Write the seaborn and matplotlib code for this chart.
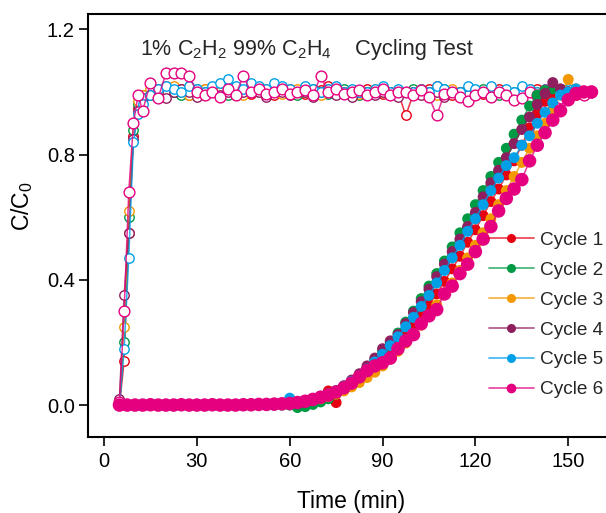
import matplotlib
matplotlib.use("Agg")
import matplotlib.pyplot as plt
from matplotlib.lines import Line2D
import seaborn as sns

# ---------------- data ----------------
cycles = ["Cycle 1", "Cycle 2", "Cycle 3", "Cycle 4", "Cycle 5", "Cycle 6"]
colors = ["#E60012", "#009944", "#F39800", "#8F1E5E", "#00A0E9", "#E4007F"]

# C2H4 outlet (open circles)
t_open = [5, 6.5, 8, 9.5, 11, 12.5, 15, 17.5,
          20, 22.5, 25, 27.5, 30, 32.5, 35, 37.5,
          40, 42.5, 45, 47.5, 50, 52.5, 55, 57.5,
          60, 62.5, 65, 67.5, 70, 72.5, 75, 77.5,
          80, 82.5, 85, 87.5, 90, 92.5, 95, 97.5,
          100, 102.5, 105, 107.5, 110, 112.5, 115, 117.5,
          120, 122.5, 125, 127.5, 130, 132.5, 135, 137.5,
          140, 142.5, 145, 147.5, 150, 152.5, 155, 157.5]

c2h4_cycle1 = [0.00, 0.14, 0.55, 0.86, 0.95, 0.98, 1.00, 1.01,
               1.02, 1.00, 1.01, 0.99, 1.00, 1.01, 1.00, 0.99,
               1.00, 1.01, 1.00, 0.995, 1.01, 1.00, 0.99, 1.00,
               1.01, 1.00, 0.995, 1.00, 1.005, 1.02, 1.01, 1.00,
               0.99, 1.00, 1.01, 1.00, 0.995, 1.00, 1.00, 0.925,
               0.995, 1.00, 1.01, 1.02, 1.00, 0.99, 1.00, 1.01,
               1.00, 0.995, 1.00, 1.01, 1.00, 0.99, 1.00, 1.005,
               1.01, 1.00, 0.995, 1.00, 1.00, 0.99, 1.00, 1.00]
c2h4_cycle2 = [0.00, 0.20, 0.60, 0.88, 0.96, 0.99, 1.00, 0.99,
               1.01, 1.00, 0.99, 1.00, 1.01, 0.995, 1.00, 1.01,
               0.99, 1.00, 1.005, 1.01, 1.00, 0.99, 1.00, 1.01,
               1.00, 0.99, 1.00, 1.01, 1.00, 0.995, 1.00, 1.01,
               1.00, 0.99, 1.00, 1.005, 1.01, 1.00, 0.99, 1.00,
               1.01, 1.00, 0.99, 1.00, 1.01, 1.00, 0.995, 1.00,
               1.00, 1.01, 1.00, 0.99, 1.00, 1.00, 1.01, 1.00,
               0.99, 1.00, 1.00, 1.01, 1.00, 1.00, 0.99, 1.00]
c2h4_cycle3 = [0.00, 0.25, 0.62, 0.90, 0.97, 0.99, 1.01, 1.00,
               1.00, 1.02, 1.00, 0.99, 1.00, 1.01, 1.00, 1.00,
               1.01, 1.00, 0.99, 1.00, 1.00, 1.01, 1.00, 0.995,
               1.00, 1.01, 1.00, 1.00, 0.99, 1.00, 1.01, 1.00,
               1.00, 0.995, 1.00, 1.01, 1.00, 1.00, 0.99, 1.00,
               1.00, 1.01, 1.00, 0.99, 1.00, 1.01, 1.00, 1.00,
               0.99, 1.00, 1.01, 1.00, 1.00, 0.995, 1.00, 1.01,
               1.00, 1.00, 0.99, 1.00, 1.01, 1.00, 1.00, 1.00]
c2h4_cycle4 = [0.02, 0.35, 0.55, 0.85, 0.94, 0.98, 0.99, 1.00,
               0.98, 1.00, 1.01, 1.00, 0.985, 1.00, 1.00, 0.99,
               1.00, 0.99, 1.00, 1.01, 1.00, 0.985, 1.00, 1.00,
               0.99, 1.00, 1.00, 0.985, 1.00, 1.01, 0.99, 1.00,
               0.985, 1.00, 1.00, 0.99, 1.00, 1.00, 0.985, 1.00,
               1.00, 0.99, 1.00, 1.00, 0.985, 1.00, 1.00, 0.99,
               1.00, 1.00, 0.985, 1.00, 1.00, 0.99, 1.00, 1.00,
               0.985, 1.00, 1.00, 1.00, 0.99, 1.00, 1.00, 1.00]
c2h4_cycle5 = [0.00, 0.18, 0.47, 0.84, 0.93, 0.96, 0.99, 1.01,
               1.02, 1.01, 1.00, 1.02, 1.01, 1.00, 1.02, 1.03,
               1.04, 1.02, 1.01, 1.03, 1.02, 1.01, 1.03, 1.02,
               1.01, 1.00, 1.02, 1.01, 1.00, 1.01, 1.02, 1.00,
               1.01, 1.00, 1.00, 1.01, 1.02, 1.00, 1.01, 1.00,
               1.00, 1.01, 1.00, 1.02, 1.01, 1.00, 1.00, 1.02,
               1.01, 1.00, 1.02, 1.00, 1.01, 1.00, 1.02, 1.01,
               1.00, 1.01, 1.00, 1.00, 1.01, 1.00, 1.00, 1.00]
c2h4_cycle6 = [0.01, 0.30, 0.68, 0.90, 0.99, 0.94, 1.03, 0.98,
               1.06, 1.06, 1.06, 1.05, 1.00, 0.99, 1.00, 0.985,
               1.01, 0.99, 1.05, 1.00, 1.01, 0.995, 1.00, 1.01,
               0.995, 1.00, 1.005, 0.99, 1.05, 1.00, 1.01, 0.995,
               1.00, 1.005, 0.99, 1.00, 1.01, 0.99, 1.00, 1.00,
               0.99, 1.005, 0.985, 0.925, 0.995, 1.00, 0.985, 0.97,
               0.99, 1.00, 0.985, 1.00, 0.99, 0.975, 0.98, 1.00,
               0.99, 1.005, 1.00, 0.98, 1.00, 0.995, 0.99, 1.00]

# C2H2 outlet (filled circles)
t_fill = [5, 7.5, 10, 12.5, 15, 17.5, 20, 22.5, 25, 27.5, 30,
          32.5, 35, 37.5, 40, 42.5, 45, 47.5, 50, 52.5, 55, 57.5,
          60, 62.5, 65, 67.5, 70, 72.5, 75, 77.5, 80, 82.5,
          85, 87.5, 90, 92.5, 95, 97.5, 100, 102.5, 105, 107.5,
          110, 112.5, 115, 117.5, 120, 122.5, 125, 127.5, 130, 132.5,
          135, 137.5, 140, 142.5, 145, 147.5, 150, 152.5, 155, 157.5]

c2h2_cycle1 = [0.0, 0.0, 0.001, 0.0, 0.0, 0.001, 0.0, 0.0, 0.0, 0.001, 0.0,
               0.0, 0.001, 0.0, 0.0, 0.001, 0.0, 0.002, 0.001, 0.002, 0.003, 0.003,
               0.004, 0.008, 0.013, 0.018, 0.028, 0.045, 0.008, 0.05, 0.07, 0.085,
               0.10, 0.12, 0.145, 0.17, 0.195, 0.225, 0.255, 0.285, 0.32, 0.355,
               0.395, 0.435, 0.475, 0.52, 0.56, 0.605, 0.65, 0.69, 0.735, 0.78,
               0.83, 0.885, 0.93, 0.97, 0.995, 1.005, 1.0, 1.0, 1.0, 1.0]
c2h2_cycle2 = [0.0, 0.0, 0.0, 0.001, 0.0, 0.0, 0.0, 0.001, 0.0, 0.0, 0.0,
               0.001, 0.0, 0.0, 0.0, 0.0, 0.001, 0.0, 0.0, 0.001, 0.0, 0.0,
               0.0, -0.008, -0.005, 0.002, 0.01, 0.02, 0.035, 0.055, 0.075, 0.095,
               0.12, 0.145, 0.17, 0.20, 0.23, 0.265, 0.30, 0.34, 0.38, 0.42,
               0.46, 0.505, 0.55, 0.595, 0.64, 0.685, 0.73, 0.775, 0.82, 0.865,
               0.91, 0.955, 0.99, 1.005, 1.01, 1.0, 1.0, 1.0, 1.0, 1.0]
c2h2_cycle3 = [0.0, 0.001, 0.0, 0.0, 0.0, 0.001, 0.0, 0.0, 0.001, 0.0, 0.0,
               0.0, 0.0, 0.001, 0.0, 0.0, 0.0, 0.001, 0.0, 0.002, 0.002, 0.003,
               0.003, 0.006, 0.01, 0.015, 0.02, 0.027, 0.035, 0.045, 0.058, 0.072,
               0.088, 0.105, 0.125, 0.148, 0.172, 0.198, 0.225, 0.255, 0.285, 0.32,
               0.355, 0.39, 0.43, 0.47, 0.51, 0.55, 0.595, 0.64, 0.685, 0.73,
               0.775, 0.82, 0.86, 0.90, 0.945, 0.99, 1.04, 1.01, 1.0, 1.0]
c2h2_cycle4 = [0.0, 0.0, 0.001, 0.0, 0.0, 0.0, 0.001, 0.0, 0.0, 0.0, 0.001,
               0.0, 0.0, 0.0, 0.001, 0.0, 0.001, 0.0, 0.002, 0.002, 0.003, 0.003,
               0.004, 0.008, 0.012, 0.018, 0.026, 0.034, 0.046, 0.062, 0.08, 0.10,
               0.125, 0.15, 0.18, 0.205, 0.225, 0.26, 0.295, 0.33, 0.37, 0.41,
               0.45, 0.49, 0.53, 0.57, 0.615, 0.665, 0.71, 0.75, 0.79, 0.835,
               0.88, 0.92, 0.96, 0.995, 1.03, 1.01, 1.0, 1.0, 1.0, 1.0]
c2h2_cycle5 = [0.0, 0.0, 0.0, 0.001, 0.0, 0.0, 0.001, 0.0, 0.0, 0.0, 0.0,
               0.001, 0.0, 0.0, 0.0, 0.001, 0.0, 0.0, 0.002, 0.002, 0.003, 0.004,
               0.022, 0.01, 0.014, 0.02, 0.028, 0.036, 0.046, 0.06, 0.076, 0.094,
               0.115, 0.138, 0.162, 0.19, 0.218, 0.25, 0.28, 0.315, 0.35, 0.39,
               0.43, 0.47, 0.51, 0.555, 0.595, 0.64, 0.685, 0.725, 0.765, 0.79,
               0.83, 0.86, 0.90, 0.935, 0.965, 0.99, 1.0, 1.01, 1.0, 1.0]
c2h2_cycle6 = [0.0, 0.0, 0.0, 0.0, 0.001, 0.0, 0.0, 0.0, 0.001, 0.0, 0.0,
               0.0, 0.001, 0.0, 0.0, 0.0, 0.001, 0.001, 0.002, 0.002, 0.003, 0.004,
               0.005, 0.008, 0.012, 0.018, 0.025, 0.032, 0.042, 0.055, 0.07, 0.09,
               0.11, 0.125, 0.135, 0.15, 0.18, 0.205, 0.225, 0.26, 0.285, 0.305,
               0.355, 0.38, 0.42, 0.45, 0.49, 0.53, 0.57, 0.62, 0.66, 0.69,
               0.72, 0.78, 0.83, 0.87, 0.91, 0.94, 0.975, 0.995, 1.0, 1.0]

c2h4_all = [c2h4_cycle1, c2h4_cycle2, c2h4_cycle3, c2h4_cycle4, c2h4_cycle5, c2h4_cycle6]
c2h2_all = [c2h2_cycle1, c2h2_cycle2, c2h2_cycle3, c2h2_cycle4, c2h2_cycle5, c2h2_cycle6]

x_ticks = [0, 30, 60, 90, 120, 150]
y_ticks = [0.0, 0.4, 0.8, 1.2]
y_ticklabels = ["0.0", "0.4", "0.8", "1.2"]

# ---------------- style ----------------
sns.set_theme(style="ticks")
plt.rcParams["font.family"] = ["Liberation Sans", "DejaVu Sans"]
plt.rcParams["mathtext.fontset"] = "custom"
plt.rcParams["mathtext.rm"] = "Liberation Sans"
plt.rcParams["mathtext.it"] = "Liberation Sans:italic"

fig = plt.figure(figsize=(6.06, 5.13), dpi=100)
ax = fig.add_axes([88 / 606, (513 - 437) / 513, (606 - 88) / 606, (437 - 14) / 513])

fill_sizes = [62, 62, 62, 62, 62, 95]
open_sizes = [46, 46, 46, 46, 46, 60]

for i in range(6):
    c = colors[i]
    sns.lineplot(x=t_open, y=c2h4_all[i], ax=ax, color=c, lw=1.1, alpha=0.8,
                 legend=False, zorder=10 + 2 * i)
    sns.scatterplot(x=t_open, y=c2h4_all[i], ax=ax, color="white", edgecolor=c,
                    linewidth=1.0, s=open_sizes[i], legend=False, zorder=11 + 2 * i)

for i in range(6):
    c = colors[i]
    sns.lineplot(x=t_fill, y=c2h2_all[i], ax=ax, color=c, lw=1.1, alpha=0.8,
                 legend=False, zorder=30 + 2 * i)
    sns.scatterplot(x=t_fill, y=c2h2_all[i], ax=ax, color=c, edgecolor="none",
                    linewidth=0, s=fill_sizes[i], legend=False, zorder=31 + 2 * i)

ax.set_xlim(-5.17, 162.2)
ax.set_ylim(-0.102, 1.249)
ax.set_xticks(x_ticks)
ax.set_yticks(y_ticks)
ax.set_yticklabels(y_ticklabels)
ax.tick_params(axis="both", direction="out", length=6.5, width=1.2,
               labelsize=14.5, colors="black")
ax.tick_params(axis="x", pad=4)
ax.tick_params(axis="y", pad=3)
for side in ["left", "bottom", "top"]:
    ax.spines[side].set_linewidth(1.5)
    ax.spines[side].set_color("black")
ax.spines["right"].set_visible(False)
ax.grid(False)

ax.set_xlabel("Time (min)", fontsize=16.5, color="black")
ax.set_ylabel(r"C/C$_\mathregular{0}$", fontsize=16.5, color="black")
ax.xaxis.set_label_coords(0.508, -0.126)
ax.yaxis.set_label_coords(-0.102, 0.545)

ax.text(0.1004, 0.903, r"1% C$_\mathregular{2}$H$_\mathregular{2}$ 99% C$_\mathregular{2}$H$_\mathregular{4}$",
        transform=ax.transAxes, fontsize=15.5, ha="left", va="baseline")
ax.text(0.5154, 0.903, "Cycling Test", transform=ax.transAxes, fontsize=15.8,
        ha="left", va="baseline")

handles = []
for i in range(6):
    ln = Line2D([], [], color=colors[i], lw=1.3, alpha=0.7)
    mk = Line2D([], [], color=colors[i], marker="o", ls="none",
                markersize=6.5 if i < 5 else 7, markeredgewidth=0)
    handles.append((ln, mk))
leg = ax.legend(handles, cycles, loc="center left",
                bbox_to_anchor=((489 - 88) / 518, (437 - 315) / 423),
                frameon=False, fontsize=13.7, handlelength=2.35,
                handletextpad=0.33, labelspacing=0.66, borderpad=0,
                borderaxespad=0)
leg.set_zorder(100)

fig.savefig("out.png", dpi=100)
